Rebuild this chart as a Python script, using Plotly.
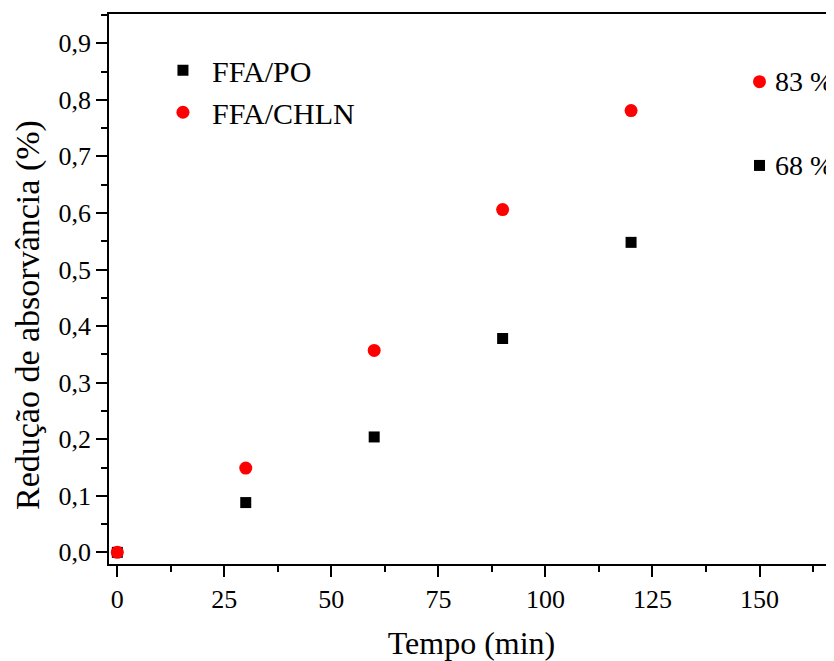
import plotly.graph_objects as go

tempo = [0, 30, 60, 90, 120, 150]
ffa_po = [0.0, 0.088, 0.204, 0.378, 0.548, 0.684]
ffa_chln = [0.0, 0.149, 0.357, 0.606, 0.781, 0.832]
x_ticks = [0, 25, 50, 75, 100, 125, 150]
y_ticks = [0.0, 0.1, 0.2, 0.3, 0.4, 0.5, 0.6, 0.7, 0.8, 0.9]
end_labels = ["68 %", "83 %"]
x_title = "Tempo (min)"
y_title = "Redução de absorvância (%)"

FONT = "Liberation Serif, Times New Roman, serif"

fig = go.Figure()
fig.add_trace(go.Scatter(x=tempo, y=ffa_po, mode="markers", name="FFA/PO",
                         marker=dict(symbol="square", size=11, color="black")))
fig.add_trace(go.Scatter(x=tempo, y=ffa_chln, mode="markers", name="FFA/CHLN",
                         marker=dict(symbol="circle", size=13, color="#ff0000")))

fig.add_annotation(x=tempo[-1], y=ffa_po[-1], text=end_labels[0], showarrow=False,
                   xanchor="left", xshift=13, font=dict(family=FONT, size=28, color="black"))
fig.add_annotation(x=tempo[-1], y=ffa_chln[-1], text=end_labels[1], showarrow=False,
                   xanchor="left", xshift=13, font=dict(family=FONT, size=28, color="black"))

# y-axis title (placed as rotated text, slightly below the axis centre as in the reference)
fig.add_annotation(x=0, y=0.4527, xref="paper", yref="paper", text=y_title, textangle=-90,
                   showarrow=False, xanchor="center", yanchor="middle", xshift=-81,
                   font=dict(family=FONT, size=34, color="black"))

axis_common = dict(showline=True, linecolor="black", linewidth=1.6, ticks="outside",
                   ticklen=11, tickwidth=1.6, tickcolor="black", showgrid=False,
                   zeroline=False, tickfont=dict(family=FONT, size=26, color="black"))

fig.update_xaxes(range=[-1.94, 167.4], tickvals=x_ticks, mirror=True,
                 minor=dict(ticks="outside", ticklen=6, tickwidth=1.6, tickcolor="black", dtick=12.5, tick0=0),
                 title=dict(text=x_title, standoff=22,
                            font=dict(family=FONT, size=32, color="black")),
                 **axis_common)
fig.update_yaxes(range=[-0.0206, 0.9517], tickvals=y_ticks, tickformat=".1f", mirror=False,
                 minor=dict(ticks="outside", ticklen=6, tickwidth=1.6, tickcolor="black", dtick=0.05, tick0=0),
                 **axis_common)

fig.update_layout(
    width=826, height=653,
    margin=dict(l=101, r=0, t=6, b=97, autoexpand=False),
    paper_bgcolor="white", plot_bgcolor="white",
    separators=", ",
    font=dict(family=FONT, color="black"),
    legend=dict(x=0.062, y=0.945, xanchor="left", yanchor="top", itemwidth=48,
                font=dict(family=FONT, size=30, color="black"),
                bgcolor="rgba(0,0,0,0)", tracegroupgap=0),
)

fig.write_html("out.html")
